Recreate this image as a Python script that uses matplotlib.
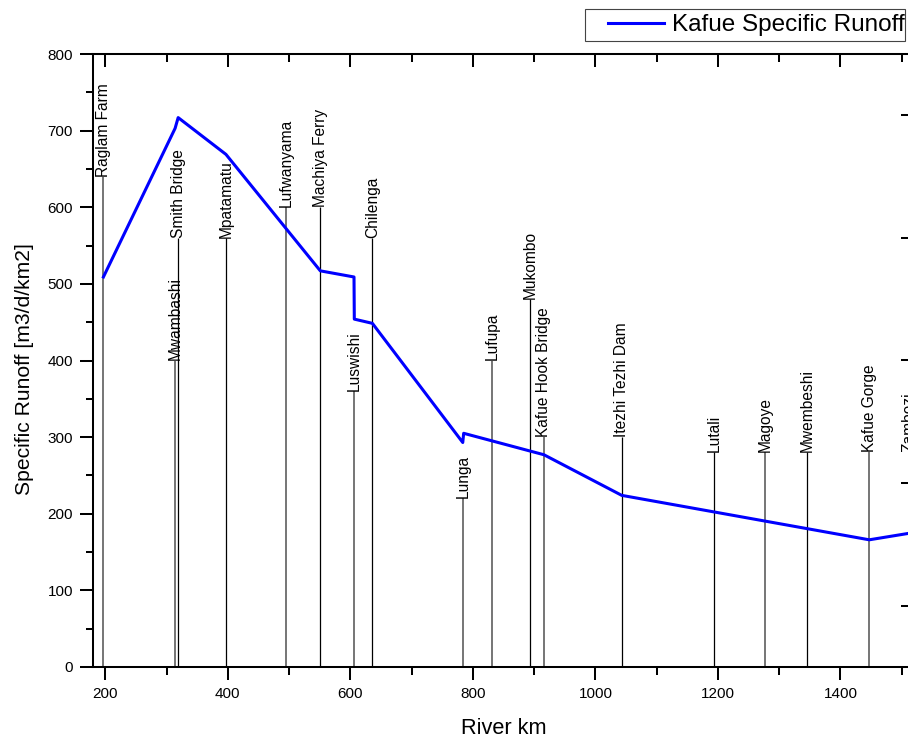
import numpy as np
import matplotlib
matplotlib.use("Agg")
import matplotlib.pyplot as plt
from matplotlib.ticker import MultipleLocator
from matplotlib.patches import Rectangle

plt.rcParams['font.family'] = ['Liberation Sans', 'DejaVu Sans']

# gauging stations along the river: chainage, height of the marker line, line shade
stations = ["Raglam Farm", "Mwambashi", "Smith Bridge", "Mpatamatu", "Lufwanyama",
            "Machiya Ferry", "Luswishi", "Chilenga", "Lunga", "Lufupa", "Mukombo",
            "Kafue Hook Bridge", "Itezhi Tezhi Dam", "Lutali", "Magoye", "Mwembeshi",
            "Kafue Gorge", "Zambezi"]
station_km = [197, 314, 319, 397, 495, 551, 606, 636, 783.5, 831, 894,
              916, 1043, 1194, 1277, 1346, 1447, 1512]
station_top = [640, 400, 560, 560, 600, 600, 360, 560, 220, 400, 480,
               300, 300, 280, 280, 280, 280, 280]
station_grey = [True, True, False, False, True, False, True, False, True, True, False,
                True, False, False, True, False, True, True]

# specific runoff profile
runoff_km = [197, 314, 319, 397, 551, 606, 606.5, 636, 783.5, 785, 916, 1043, 1447, 1512]
runoff_val = [509, 703, 717, 669, 517, 509, 454, 448.5, 293, 305, 277, 224, 166, 174.5]

fig = plt.figure(figsize=(9.08, 7.39), dpi=100)
ax = fig.add_axes([93 / 908, 72 / 739, 821 / 908, 613 / 739])

for km, top, grey, name in zip(station_km, station_top, station_grey, stations):
    ax.vlines(km, 0, top, colors='#6a6a6a' if grey else 'black',
              linewidth=1.3 if grey else 0.9, zorder=1)
    ax.text(km, top, name, rotation=90, ha='center', va='bottom', fontsize=11.2)

line, = ax.plot(runoff_km, runoff_val, color='#0000ff', linewidth=2.2, zorder=3,
                label='Kafue Specific Runoff')

ax.set_xlim(180, 1520)
ax.set_ylim(0, 800)
ax.xaxis.set_major_locator(MultipleLocator(200))
ax.xaxis.set_minor_locator(MultipleLocator(100))
ax.yaxis.set_major_locator(MultipleLocator(100))
ax.yaxis.set_minor_locator(MultipleLocator(50))
ax.tick_params(which='both', direction='out', width=1.45, labelsize=11, pad=5)
ax.tick_params(which='major', length=9.4)
ax.tick_params(which='minor', length=5.4)
for sp in ax.spines.values():
    sp.set_linewidth(1.45)

# top axis ticks point inwards
top = ax.secondary_xaxis('top')
top.xaxis.set_major_locator(MultipleLocator(200))
top.xaxis.set_minor_locator(MultipleLocator(100))
top.tick_params(which='both', direction='in', width=1.45, labeltop=False)
top.tick_params(which='major', length=9.4)
top.tick_params(which='minor', length=5.4)
top.spines['top'].set_linewidth(1.45)

# right-hand axis
ax2 = ax.twinx()
ax2.set_ylim(0, 5)
ax2.set_yticks([0.5, 1.5, 2.5, 3.5, 4.5])
ax2.tick_params(direction='in', length=9.4, width=1.45, labelright=False)
for sp in ax2.spines.values():
    sp.set_linewidth(1.45)

ax.set_xlabel("River km", fontsize=15.7, labelpad=12)
ax.set_ylabel("Specific Runoff [m3/d/km2]", fontsize=15.2)
ax.yaxis.set_label_coords(-0.072, 0.486)

fig.patches.append(Rectangle((585 / 908, 1 - 41 / 739), 320 / 908, 32 / 739,
                             transform=fig.transFigure, facecolor='white',
                             edgecolor='#444444', linewidth=0.8))
fig.legend(handles=[line], loc='center right', bbox_to_anchor=(905 / 908, 1 - 25 / 739),
           frameon=False, fontsize=17.5, borderpad=0, borderaxespad=0,
           handlelength=2.3, handletextpad=0.33)

fig.savefig("out.png", dpi=100)
